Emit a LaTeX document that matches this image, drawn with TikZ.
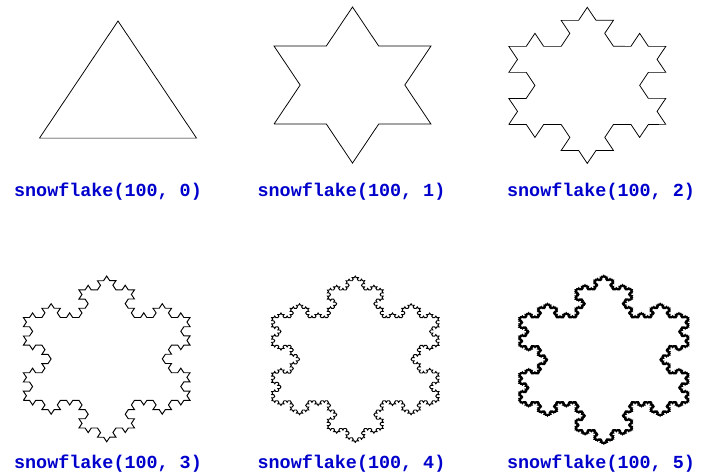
\documentclass[tikz,border=0pt]{standalone}
\usepackage{fontspec}
\setmonofont{Liberation Mono}
\usetikzlibrary{decorations.fractals}
\definecolor{codeblue}{RGB}{0,0,204}

\begin{document}
\begin{tikzpicture}[x=1pt,y=-1pt,
    flake/.style={draw=black,line width=#1,line join=miter},
    flake/.default=0.8pt,
    lbl/.style={anchor=base,text=codeblue,
                font=\ttfamily\bfseries\fontsize{18.4}{20}\selectfont},
  ]
  \useasboundingbox (0,0) rectangle (707,475);
  % the screenshot is squashed vertically, so squash the flakes too
  \begin{scope}[transform canvas={yscale=0.861},decoration=Koch snowflake]
    \draw[flake] (39.5,160.4) -- (118,24.4) -- (196.5,160.4) -- cycle;
    \draw[flake] decorate{(274,144.1) -- (352.5,8.1) -- (431,144.1) -- cycle};
    \draw[flake] decorate{decorate{(508.8,144.5) -- (587.3,8.5) -- (665.8,144.5) -- cycle}};
    \draw[flake=1pt] decorate{decorate{decorate{(23.35,465) -- (106.7,320.6) -- (190.05,465) -- cycle}}};
    \draw[flake=1pt] decorate{decorate{decorate{decorate{(271.65,465.5) -- (355.3,320.6) -- (438.95,465.5) -- cycle}}}};
    \draw[flake=1.6pt] decorate{decorate{decorate{decorate{decorate{(519.3,466.6) -- (603.8,320.2) -- (688.3,466.6) -- cycle}}}}};
  \end{scope}

  \node[lbl] (lbl0) at (108,196)   {snowflake(100, 0)};
  \node[lbl] (lbl1) at (351.5,196) {snowflake(100, 1)};
  \node[lbl] (lbl2) at (601,196)   {snowflake(100, 2)};
  \node[lbl] (lbl3) at (108,468)   {snowflake(100, 3)};
  \node[lbl] (lbl4) at (351.5,468) {snowflake(100, 4)};
  \node[lbl] (lbl5) at (601,468)   {snowflake(100, 5)};
\end{tikzpicture}
\end{document}
